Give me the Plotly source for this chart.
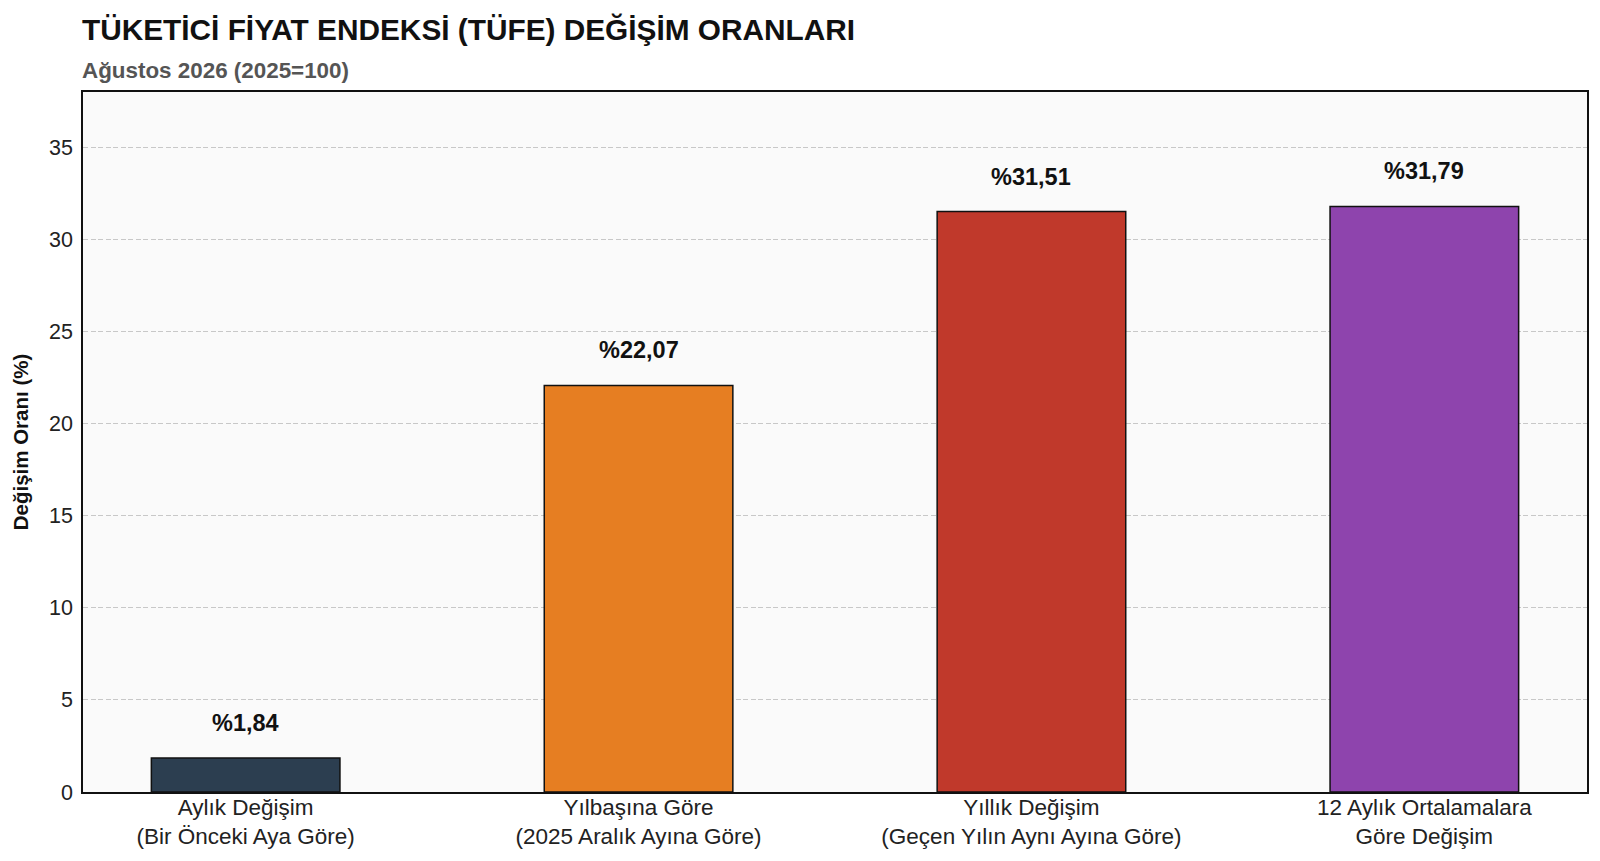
import plotly.graph_objects as go

# Data
categories = [
    "Aylık Değişim<br>(Bir Önceki Aya Göre)",
    "Yılbaşına Göre<br>(2025 Aralık Ayına Göre)",
    "Yıllık Değişim<br>(Geçen Yılın Aynı Ayına Göre)",
    "12 Aylık Ortalamalara<br>Göre Değişim",
]
values = [1.84, 22.07, 31.51, 31.79]
bar_colors = ["#2c3e50", "#e67e22", "#c0392b", "#8e44ad"]
y_ticks = [0, 5, 10, 15, 20, 25, 30, 35]

title = "TÜKETİCİ FİYAT ENDEKSİ (TÜFE) DEĞİŞİM ORANLARI"
subtitle = "Ağustos 2026 (2025=100)"
font_family = "Liberation Sans, Arial, sans-serif"

fig = go.Figure()

fig.add_trace(
    go.Bar(
        x=categories,
        y=values,
        width=0.48,
        marker=dict(color=bar_colors, line=dict(color="#111111", width=1.5)),
        showlegend=False,
        hovertemplate="%{y:.2f}<extra></extra>",
    )
)

# value labels above bars
for cat, val in zip(categories, values):
    fig.add_annotation(
        x=cat,
        y=val,
        xref="x",
        yref="y",
        text="<b>%" + f"{val:.2f}".replace(".", ",") + "</b>",
        showarrow=False,
        yanchor="middle",
        yshift=35,
        font=dict(size=23.5, color="#111111", family=font_family),
    )

# title and subtitle
fig.add_annotation(
    x=0, y=1.089, xref="paper", yref="paper",
    text=f"<b>{title}</b>", showarrow=False,
    xanchor="left", yanchor="middle", xshift=-3,
    font=dict(size=29.8, color="#111111", family=font_family),
)
fig.add_annotation(
    x=0, y=1.031, xref="paper", yref="paper",
    text=f"<b>{subtitle}</b>", showarrow=False,
    xanchor="left", yanchor="middle", xshift=-3,
    font=dict(size=22.4, color="#555555", family=font_family),
)

# page body adds an 8px offset, so the figure is sized to fit the window
fig.update_layout(
    width=1592,
    height=853,
    margin=dict(l=75, r=13, t=84, b=69),
    paper_bgcolor="white",
    plot_bgcolor="#fafafa",
    font=dict(family=font_family, size=22, color="#222222"),
)

fig.update_xaxes(
    range=[-0.414, 3.414],
    showline=True,
    mirror=True,
    linecolor="#111111",
    linewidth=1.5,
    showgrid=False,
    ticks="",
    automargin=False,
    ticklabelstandoff=-6,
    tickfont=dict(size=22.5, color="#222222"),
)
fig.update_yaxes(
    range=[0, 38],
    tickvals=y_ticks,
    showline=True,
    mirror=True,
    linecolor="#111111",
    linewidth=1.5,
    showgrid=True,
    gridcolor="#c8c8c8",
    griddash="5px,2.5px",
    gridwidth=1,
    zeroline=False,
    ticks="",
    ticklabelstandoff=4,
    automargin=False,
    tickfont=dict(size=21.5, color="#222222"),
    title=dict(
        text="<b>Değişim Oranı (%)</b>",
        font=dict(size=20.5, color="#111111"),
        standoff=15,
    ),
)

fig.write_html("out.html")
